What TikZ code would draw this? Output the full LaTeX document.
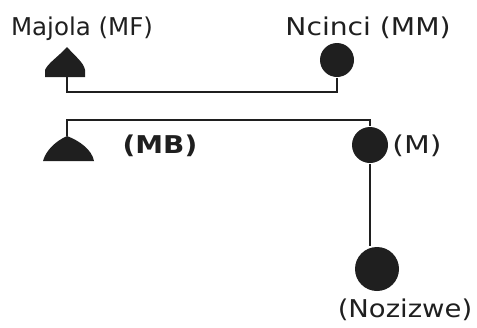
\documentclass[tikz,border=0pt]{standalone}
\usepackage{fontspec}
\setmainfont{DejaVu Sans}
\begin{document}
\begin{tikzpicture}[x=1pt,y=-1pt,
  line width=2.6pt, color=black!88,
  female/.style={circle, fill=black!88, draw=none, inner sep=0pt},
  lbl/.style={font=\fontsize{24.5}{30}\selectfont, text=black!88, inner sep=0pt, anchor=base}]

\useasboundingbox (0,0) rectangle (477,327);

%%% Parents

% Majola, drawn as a filled triangle
\coordinate (mf) at (67,47);
\coordinate (mfbase) at (67,77);
\fill (mf) .. controls (76,57) and (84,63) .. (85,70) -- (85,77) -- (45,77) -- (45,70)
  .. controls (48,63) and (58,57) .. (mf);

\node (mm) [female, minimum size=34pt] at (337,60) {};

\node (mflbl) [lbl] at (82,35) {Majola (MF)};
\node (mmlbl) [lbl] at (368,35) {\scalebox{1.15}[1]{Ncinci (MM)}};

% Marriage line

\draw (mfbase) -- ++(0,15) -| (mm.south);

%%% Children

% brother, a wider triangle
\coordinate (mb) at (67,136);
\coordinate (mbbase) at (67,161);
\fill (mb) .. controls (80,141) and (92,150) .. (94,161) -- (43,161)
  .. controls (46,150) and (56,141) .. (mb);

\node (m) [female, minimum size=36pt] at (370,145) {};

\node (mblbl) [lbl] at (160,153) {\scalebox{1.14}[1]{\bfseries (MB)}};
\node (mlbl) [lbl] at (417,153) {\scalebox{1.22}[1]{(M)}};

% Sibling line

\draw (mb) -- ++(0,-16) -| (m.north);

%%% Daughter

\node (nz) [female, minimum size=44pt] at (377,269) {};
\node (nzlbl) [lbl] at (405,317) {\scalebox{1.12}[1]{(Nozizwe)}};

\draw (m.south) -- (m.south |- nz.north);

\end{tikzpicture}
\end{document}
